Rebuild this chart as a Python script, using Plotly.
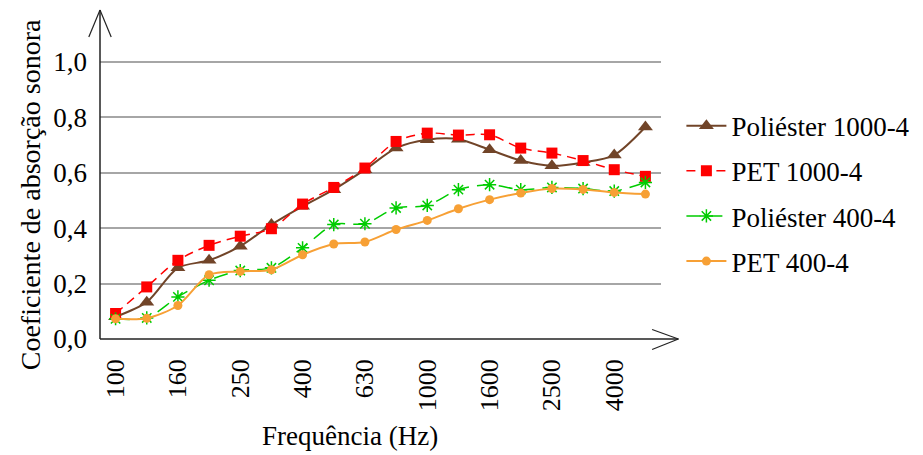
import plotly.graph_objects as go

freqs = ["100", "125", "160", "200", "250", "315", "400", "500", "630", "800",
         "1000", "1250", "1600", "2000", "2500", "3150", "4000", "5000"]
tick_labels = ["100", "160", "250", "400", "630", "1000", "1600", "2500", "4000"]

poliester_1000 = [0.08, 0.133, 0.257, 0.284, 0.335, 0.413, 0.479, 0.539, 0.611, 0.689,
                  0.719, 0.721, 0.683, 0.644, 0.625, 0.637, 0.664, 0.765]
pet_1000 = [0.092, 0.188, 0.284, 0.338, 0.371, 0.398, 0.487, 0.547, 0.617, 0.713,
            0.743, 0.736, 0.737, 0.689, 0.671, 0.644, 0.611, 0.587]
poliester_400 = [0.073, 0.076, 0.152, 0.212, 0.247, 0.257, 0.329, 0.413, 0.416, 0.473,
                 0.482, 0.539, 0.557, 0.539, 0.547, 0.543, 0.534, 0.565]
pet_400 = [0.073, 0.075, 0.121, 0.232, 0.244, 0.25, 0.304, 0.343, 0.35, 0.395,
           0.428, 0.47, 0.503, 0.527, 0.543, 0.54, 0.529, 0.523]

# page body has an 8px default margin; compensate so the plot lands where the reference has it
OFF = 8
W, H = 923 - OFF, 455 - OFF
L = 99.5 - OFF
T = 10 - OFF
R = W - (660.6 - OFF)
B = H - (339.5 - OFF)
pw, ph = W - L - R, H - T - B

FONT = "Liberation Serif, Times New Roman, serif"
FS = 27
fig = go.Figure()

fig.add_trace(go.Scatter(
    x=freqs, y=poliester_1000, name="Poliéster 1000-4", legendgroup="a",
    mode="lines+markers", line=dict(color="#714428", width=2, shape="spline", smoothing=0.8),
    marker=dict(symbol="triangle-up", size=13, color="#714428")))
fig.add_trace(go.Scatter(
    x=freqs, y=pet_1000, name="PET 1000-4", legendgroup="b",
    mode="lines+markers", line=dict(color="#ff0000", width=1.5, dash="9px,6px", shape="spline", smoothing=0.8),
    marker=dict(symbol="square", size=11, color="#ff0000")))
fig.add_trace(go.Scatter(
    x=freqs, y=poliester_400, name="Poliéster 400-4", legendgroup="c",
    mode="lines+markers", line=dict(color="#00cc00", width=1.5, dash="14px,8px", shape="spline", smoothing=0.8),
    marker=dict(symbol="asterisk-open", size=11, color="#00cc00", line=dict(color="#00cc00", width=1.5))))
fig.add_trace(go.Scatter(
    x=freqs, y=pet_400, name="PET 400-4", legendgroup="d",
    mode="lines+markers", line=dict(color="#f7a035", width=2, shape="spline", smoothing=0.8),
    marker=dict(symbol="circle", size=9, color="#f7a035")))

def px(x):
    return (x - OFF - L) / pw

def py(y):
    return (H - B - (y - OFF)) / ph

axcol = "#222222"
shapes = [
    dict(type="line", xref="paper", yref="paper", x0=0, y0=0, x1=px(678), y1=0,
         line=dict(color=axcol, width=1.5)),
    dict(type="line", xref="paper", yref="paper", x0=px(651.7), y0=py(330), x1=px(678), y1=0,
         line=dict(color=axcol, width=1.2)),
    dict(type="line", xref="paper", yref="paper", x0=px(651.7), y0=py(350), x1=px(678), y1=0,
         line=dict(color=axcol, width=1.2)),
    dict(type="line", xref="paper", yref="paper", x0=0, y0=0, x1=0, y1=py(10),
         line=dict(color=axcol, width=1.5)),
    dict(type="line", xref="paper", yref="paper", x0=px(88.3), y0=py(37), x1=0, y1=py(10),
         line=dict(color=axcol, width=1.2)),
    dict(type="line", xref="paper", yref="paper", x0=px(110.7), y0=py(37), x1=0, y1=py(10),
         line=dict(color=axcol, width=1.2)),
]

annotations = [
    dict(text="Coeficiente de absorção sonora", xref="paper", yref="paper",
         x=px(30), y=py(195), xanchor="center", yanchor="middle", textangle=-90,
         showarrow=False, font=dict(family=FONT, size=28, color="black")),
    dict(text="Frequência (Hz)", xref="paper", yref="paper",
         x=px(350), y=py(437), xanchor="center", yanchor="middle",
         showarrow=False, font=dict(family=FONT, size=FS, color="black")),
]

fig.update_layout(
    width=W, height=H,
    margin=dict(l=L, r=R, t=T, b=B, autoexpand=False),
    paper_bgcolor="white", plot_bgcolor="white",
    font=dict(family=FONT, size=FS, color="black"),
    shapes=shapes,
    annotations=annotations,
    showlegend=True,
    legend=dict(x=px(681), xanchor="left", y=py(194), yanchor="middle",
                font=dict(family=FONT, size=FS, color="black"),
                tracegroupgap=7, itemwidth=40, bgcolor="rgba(0,0,0,0)"),
    xaxis=dict(
        type="category", categoryorder="array", categoryarray=freqs,
        range=[-0.5, 17.5], showgrid=False, zeroline=False, showline=False, automargin=False,
        tickmode="array", tickvals=tick_labels, ticktext=tick_labels,
        tickangle=-90, ticks="", ticklabelstandoff=14,
        tickfont=dict(family=FONT, size=FS - 1, color="black"),
    ),
    yaxis=dict(
        range=[0, (H - B - T) / 277.5], showgrid=True, gridcolor="#a6a6a6", gridwidth=1.5,
        zeroline=False, showline=False, automargin=False,
        tickmode="array", tickvals=[0, 0.2, 0.4, 0.6, 0.8, 1.0],
        ticktext=["0,0", "0,2", "0,4", "0,6", "0,8", "1,0"],
        ticks="", ticklabelstandoff=12,
        tickfont=dict(family=FONT, size=FS, color="black"),
    ),
)

fig.write_html("out.html")
